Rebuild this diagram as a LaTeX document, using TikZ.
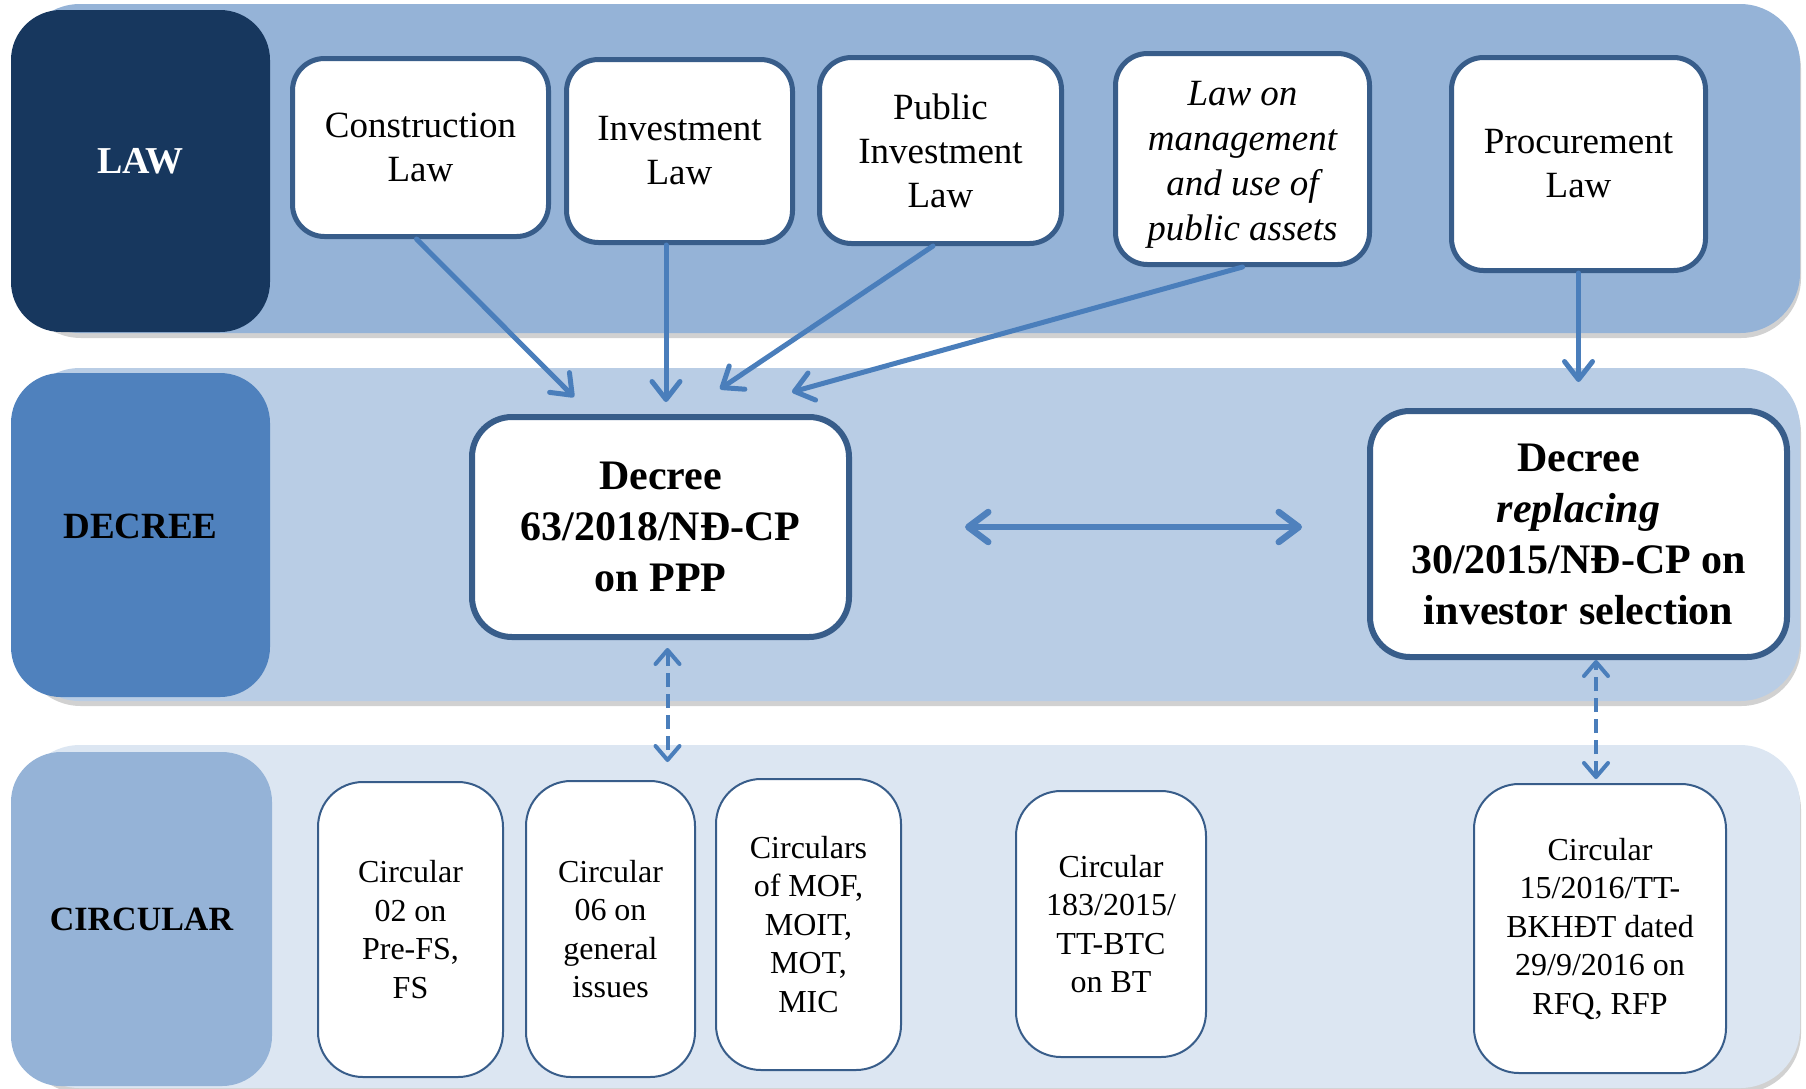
\documentclass[tikz,border=0pt]{standalone}
\usepackage{fontspec}
\setmainfont{Liberation Serif}
\usetikzlibrary{arrows.meta,shadows,calc}

\definecolor{navy}{HTML}{17375E}
\definecolor{accent}{HTML}{4F81BD}
\definecolor{tint40}{HTML}{95B3D7}
\definecolor{tint60}{HTML}{B9CDE5}
\definecolor{tint80}{HTML}{DCE6F2}
\definecolor{edgeblue}{HTML}{385D8A}
\definecolor{arrowblue}{HTML}{4A7EBB}

\begin{document}
\begin{tikzpicture}[x=1pt,y=-1pt,
  band/.style={rounded corners=60pt,
    drop shadow={shadow xshift=1pt,shadow yshift=-5pt,opacity=0.3,fill=black!60}},
  tier/.style={rounded corners=50pt, inner sep=0pt, align=center,
    font=\fontsize{38}{44}\selectfont\bfseries},
  lawbox/.style={draw=edgeblue, line width=5pt, fill=white, rounded corners=32pt,
    inner sep=0pt, align=center, font=\fontsize{37}{44}\selectfont},
  decreebox/.style={draw=edgeblue, line width=6pt, fill=white, rounded corners=40pt,
    inner sep=0pt, align=center, font=\fontsize{42}{51}\selectfont\bfseries},
  circbox/.style={draw=edgeblue, line width=2pt, fill=white, rounded corners=45pt,
    inner sep=0pt, align=center, font=\fontsize{32}{38.5}\selectfont},
  arr/.style={draw=arrowblue, line width=5pt, line cap=round,
    -{Straight Barb[round,length=18pt,width=28pt]}},
  dblarr/.style={draw=accent, line width=6.5pt,
    {Straight Barb[round,length=20pt,width=30pt]}-{Straight Barb[round,length=20pt,width=30pt]}},
  dasharr/.style={draw=arrowblue, line width=4pt, dash pattern=on 14pt off 7pt,
    {Straight Barb[round,length=14pt,width=24pt]}-{Straight Barb[round,length=14pt,width=24pt]}}
]
\useasboundingbox (0,0) rectangle (1806,1088);

% background bands
\path[band, fill=tint40] (20,4) rectangle (1800,333);
\path[band, fill=tint60] (20,368) rectangle (1800,701);
\path[band, fill=tint80] (20,745) rectangle (1800,1088);

% tier labels
\node[tier, fill=navy, text=white, minimum width=259pt, minimum height=322pt,
  text depth=20pt] (lawlbl) at (140.5,171) {LAW};
\node[tier, fill=accent, minimum width=259pt, minimum height=324pt,
  font=\fontsize{37}{44}\selectfont\bfseries, text depth=18pt] (declbl) at (140.5,535) {DECREE};
\node[tier, fill=tint40, minimum width=261pt, minimum height=334pt,
  font=\fontsize{34}{40}\selectfont\bfseries] (circlbl) at (141.5,919) {CIRCULAR};

% laws
\node[lawbox, minimum width=256pt, minimum height=178pt] (cl) at (420.5,147.5) {Construction\\Law};
\node[lawbox, minimum width=226pt, minimum height=183pt] (il) at (679.5,151) {Investment\\Law};
\node[lawbox, minimum width=242pt, minimum height=186pt] (pil) at (940.5,150.5) {Public\\Investment\\Law};
\node[lawbox, minimum width=254pt, minimum height=211pt,
  label={[font=\fontsize{37}{45}\selectfont\itshape, align=center, yshift=-6pt]center:Law on\\management\\and use of\\public assets}]
  (lm) at (1242.5,159) {};
\node[lawbox, minimum width=254pt, minimum height=213pt] (pl) at (1578.5,164) {Procurement\\Law};

% decrees
\node[decreebox, minimum width=377pt, minimum height=220pt] (d63) at (660.5,527)
  {Decree\\63/2018/NĐ-CP\\on PPP};
\node[decreebox, minimum width=417pt, minimum height=246pt] (dr) at (1578.5,534)
  {Decree\\\textit{replacing}\\30/2015/NĐ-CP on\\investor selection};

% circulars
\node[circbox, minimum width=185pt, minimum height=295pt] (c02) at (410.5,929.5)
  {Circular\\02 on\\Pre-FS,\\FS};
\node[circbox, minimum width=169pt, minimum height=296pt] (c06) at (610.5,929)
  {Circular\\06 on\\general\\issues};
\node[circbox, minimum width=185pt, minimum height=291pt] (cmof) at (808.5,924.5)
  {Circulars\\of MOF,\\MOIT,\\MOT,\\MIC};
\node[circbox, minimum width=190pt, minimum height=266pt] (c183) at (1111,924)
  {Circular\\183/2015/\\TT-BTC\\on BT};
\node[circbox, minimum width=252pt, minimum height=289pt] (c15) at (1600,928.5)
  {Circular\\15/2016/TT-\\BKHĐT dated\\29/9/2016 on\\RFQ, RFP};

% arrow ends above the PPP decree
\coordinate (in1) at (574,397);
\coordinate (in2) at (666,402);
\coordinate (in3) at (720,389);
\coordinate (in4) at (792,392);

% laws feeding the decrees
\draw[arr] ([xshift=-4pt]cl.south) -- (in1);
\draw[arr] ([xshift=-13.5pt]il.south) -- (in2);
\draw[arr] ([xshift=-7.5pt]pil.south) -- (in3);
\draw[arr] (lm.south) -- (in4);
\draw[arr, shorten >=26pt] (pl.south) -- (pl.south |- dr.north);

% link between the two decrees
\draw[dblarr, shorten <=113pt, shorten >=65pt] (d63.east) -- (d63.east -| dr.west);

% decrees to circulars
\draw[dasharr, shorten <=8pt, shorten >=18pt]
  ([xshift=7pt]d63.south) -- ([xshift=7pt]d63.south |- c06.north);
\draw[dasharr, shorten <=4pt]
  ([xshift=-4pt]c15.north) -- ([xshift=-4pt]c15.north |- dr.south);
\end{tikzpicture}
\end{document}
